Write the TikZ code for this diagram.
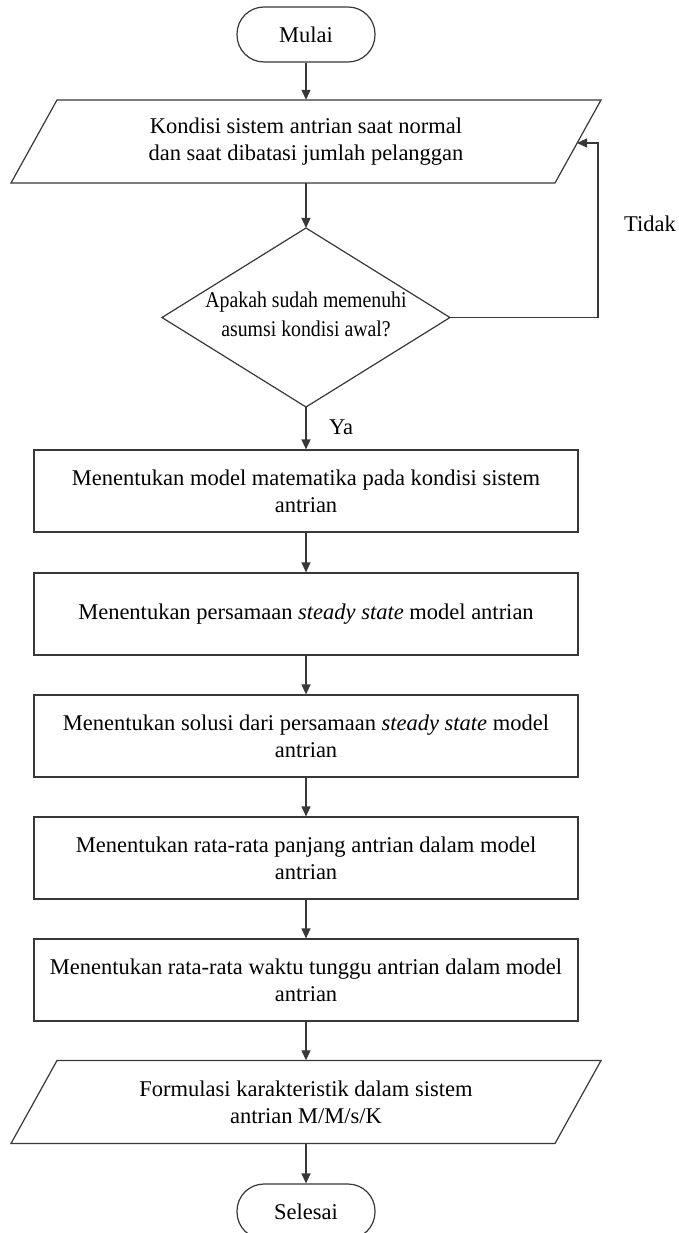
\documentclass[tikz,border=0pt]{standalone}
\usepackage{fontspec}
\setmainfont{Liberation Serif}
\newfontfamily\narrowserif{Liberation Serif}[FakeStretch=0.88]
\usetikzlibrary{arrows.meta}
\begin{document}
\begin{tikzpicture}[x=1pt,y=-1pt,
  line/.style={draw=black!78, line width=1.2pt},
  arr/.style={line, -{Triangle[length=10pt,width=9pt]}},
  txt/.style={font=\fontsize{22.5}{27}\selectfont, align=center, text=black},
  term/.style={txt, line, rounded corners=27pt, minimum width=138pt, minimum height=55pt, inner sep=0pt},
  proc/.style={txt, line, minimum width=544pt, minimum height=82pt, inner sep=0pt},
  iobox/.style={txt, minimum width=590pt, minimum height=83pt, inner sep=0pt}]
\useasboundingbox (0,0) rectangle (678,1233);
\fill[white] (0,0) rectangle (678,1233);

% start
\node[term] (mulai) at (306,34.5) {Mulai};

% input parallelogram
\node[iobox] (in1) at (306,141.5) {Kondisi sistem antrian saat normal\\dan saat dibatasi jumlah pelanggan};
\draw[line] (11,183) -- (57,100) -- (601,100) -- (555,183) -- cycle;

% decision
\coordinate (dtop) at (306,228);
\coordinate (dright) at (450,317.5);
\coordinate (dbot) at (306,407);
\coordinate (dleft) at (162,317.5);
\draw[line] (dtop) -- (dright) -- (dbot) -- (dleft) -- cycle;
\node[txt, font=\narrowserif\fontsize{22.5}{29}\selectfont] (dec) at (306,314) {Apakah sudah memenuhi\\asumsi kondisi awal?};

% processes
\node[proc] (p1) at (306,491) {Menentukan model matematika pada kondisi sistem\\antrian};
\node[proc] (p2) at (306,614) {Menentukan persamaan \textit{steady state} model antrian};
\node[proc] (p3) at (306,736) {Menentukan solusi dari persamaan \textit{steady state} model\\antrian};
\node[proc] (p4) at (306,858) {Menentukan rata-rata panjang antrian dalam model\\antrian};
\node[proc] (p5) at (306,980) {Menentukan rata-rata waktu tunggu antrian dalam model\\antrian};

% output parallelogram
\node[iobox] (out) at (306,1102) {Formulasi karakteristik dalam sistem\\antrian M/M/s/K};
\draw[line] (11,1143.5) -- (57,1060.5) -- (601,1060.5) -- (555,1143.5) -- cycle;

% end
\node[term] (selesai) at (306,1211.5) {Selesai};

% connectors
\draw[arr] (mulai) -- (in1);
\draw[arr] (in1) -- (dtop);
\draw[arr] (dbot) -- (p1);
\draw[arr] (p1) -- (p2);
\draw[arr] (p2) -- (p3);
\draw[arr] (p3) -- (p4);
\draw[arr] (p4) -- (p5);
\draw[arr] (p5) -- (out);
\draw[arr] (out) -- (selesai);

\coordinate (loopc) at (598,143);
\coordinate (pin) at (577,143);
\draw[arr] (dright) -| (loopc) -- (pin);

\node[txt] (tidak) at (650,224) {Tidak};
\node[txt] (ya) at (341,427) {Ya};
\end{tikzpicture}
\end{document}
